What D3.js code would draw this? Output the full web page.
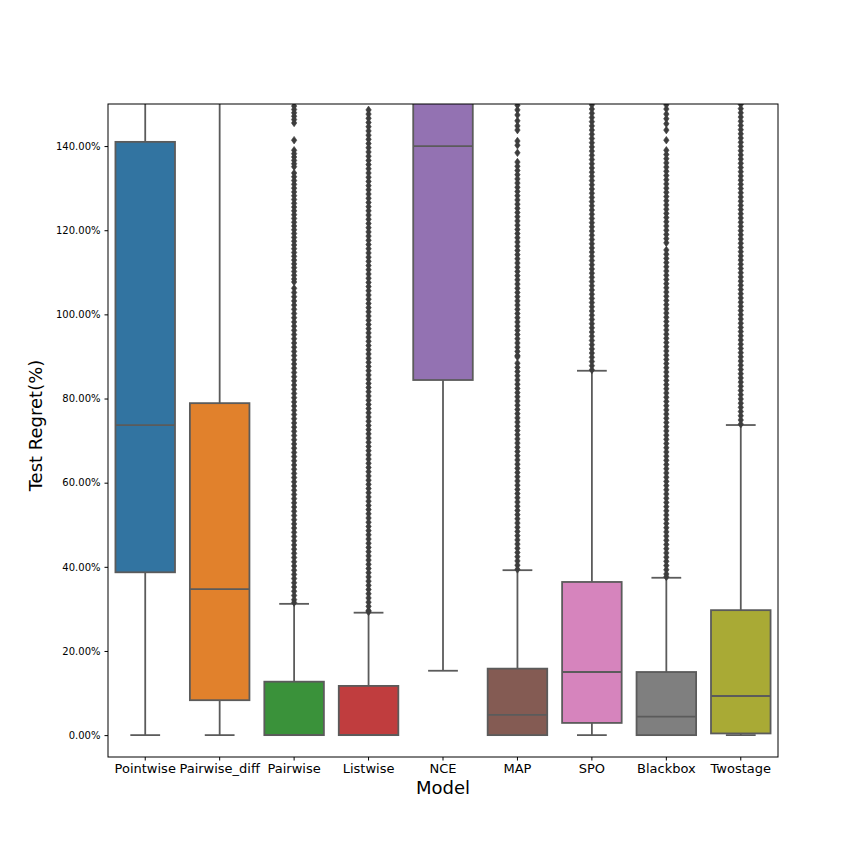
<!DOCTYPE html>
<html>
<head>
<meta charset="utf-8">
<script src="https://cdn.jsdelivr.net/npm/d3@7"></script>
<style>
  body { margin: 0; background: #fff; }
  text { font-family: "DejaVu Sans", sans-serif; }
</style>
</head>
<body>
<div id="chart"></div>
<script>
// Categories and box statistics (percent values)
const models = ["Pointwise", "Pairwise_diff", "Pairwise", "Listwise", "NCE", "MAP", "SPO", "Blackbox", "Twostage"];
const colors = ["#3274a1", "#e1812c", "#3a923a", "#c03d3e", "#9372b2", "#845b53", "#d684bd", "#7f7f7f", "#a9aa35"];
const whiskerLow = [0, 0, 0, 0, 15.3, 0, 0, 0, 0];
const q1 = [38.7, 8.3, 0, 0, 84.4, 0, 2.9, 0, 0.4];
const medians = [73.7, 34.7, 0, 0, 140.0, 4.8, 15.0, 4.4, 9.3];
const q3 = [141.0, 78.9, 12.7, 11.7, 190, 15.8, 36.4, 15.0, 29.7];
const whiskerHigh = [200, 200, 31.2, 29.1, 190, 39.2, 86.6, 37.4, 73.7];
const yTicks = [0, 20, 40, 60, 80, 100, 120, 140];

// Outliers (fliers) per model
const fliersPairwise = [149.5, 148.7, 147.9, 147.1, 146.3, 145.5, 141.4, 139.0, 138.2, 137.4, 136.6, 135.8, 135.1,
  133.6, 132.7, 131.8, 130.9, 130.0, 129.1, 128.2, 127.3, 126.4, 125.5, 124.6, 123.7, 122.8, 121.9, 121.0, 120.1,
  119.2, 118.3, 117.4, 116.5, 115.6, 114.7, 113.8, 112.9, 112.0, 111.1, 110.2, 109.3, 108.4, 107.7,
  106.2, 105.2, 104.2, 103.2, 102.2, 101.2, 100.2, 99.2, 98.2, 97.2, 96.2, 95.2, 94.2, 93.2, 92.2, 91.2, 90.2,
  89.2, 88.2, 87.2, 86.2, 85.2, 84.2, 83.2, 82.2, 81.2, 80.2, 79.2, 78.2, 77.2, 76.2, 75.2, 74.2, 73.2, 72.2,
  71.2, 70.2, 69.2, 68.2, 67.2, 66.2, 65.2, 64.2, 63.2, 62.2, 61.2, 60.2, 59.2, 58.2, 57.2, 56.2, 55.2, 54.2,
  53.2, 52.2, 51.2, 50.2, 49.2, 48.2, 47.2, 46.2, 45.2, 44.2, 43.2, 42.2, 41.2, 40.2, 39.2, 38.2, 37.2, 36.2,
  35.2, 34.2, 33.2, 32.2, 31.5];
const fliersListwise = [148.6, 147.6, 146.6, 145.6, 144.6, 143.6, 142.6, 141.6, 140.6, 139.6, 138.6, 137.6, 136.6,
  135.6, 134.6, 133.6, 132.6, 131.6, 130.6, 129.6, 128.6, 127.6, 126.6, 125.6, 124.6, 123.6, 122.6, 121.6, 120.6,
  119.6, 118.6, 117.6, 116.6, 115.6, 114.6, 113.6, 112.6, 111.6, 110.6, 109.6, 108.6, 107.6, 106.6, 105.6, 104.6,
  103.6, 102.6, 101.6, 100.6, 99.6, 98.6, 97.6, 96.6, 95.6, 94.6, 93.6, 92.6, 91.6, 90.6, 89.6, 88.6, 87.6, 86.6,
  85.6, 84.6, 83.6, 82.6, 81.6, 80.6, 79.6, 78.6, 77.6, 76.6, 75.6, 74.6, 73.6, 72.6, 71.6, 70.6, 69.6, 68.6,
  67.6, 66.6, 65.6, 64.6, 63.6, 62.6, 61.6, 60.6, 59.6, 58.6, 57.6, 56.6, 55.6, 54.6, 53.6, 52.6, 51.6, 50.6,
  49.6, 48.6, 47.6, 46.6, 45.6, 44.6, 43.6, 42.6, 41.6, 40.6, 39.6, 38.6, 37.6, 36.6, 35.6, 34.6, 33.6, 32.6,
  31.6, 30.6, 29.6, 29.3];
const fliersMAP = [149.7, 148.6, 147.4, 146.0, 144.8, 143.8, 141.2, 140.2, 138.4,
  136.2, 135.2, 134.2, 133.2, 132.2, 131.2, 130.2, 129.2, 128.2, 127.2, 126.2, 125.2, 124.2, 123.2, 122.2, 121.2,
  120.2, 119.2, 118.2, 117.2, 116.2, 115.2, 114.2, 113.2, 112.2, 111.2, 110.2, 109.2, 108.2, 107.2, 106.2, 105.2,
  104.2, 103.2, 102.2, 101.2, 100.2, 99.2, 98.2, 97.2, 96.2, 95.2, 94.2, 93.2, 92.2, 91.2, 90.2, 89.9,
  88.4, 87.4, 86.4, 85.4, 84.4, 83.4, 82.4, 81.4, 80.4, 79.4, 78.4, 77.4, 76.4, 75.4, 74.4, 73.4, 72.4, 71.4,
  70.4, 69.4, 68.4, 67.4, 66.4, 65.4, 64.4, 63.4, 62.4, 61.4, 60.4, 59.4, 58.4, 57.4, 56.4, 55.4, 54.4, 53.4,
  52.4, 51.4, 50.4, 49.4, 48.4, 47.4, 46.4, 45.4, 44.4, 43.4, 42.4, 41.4, 40.4, 39.4];
const fliersSPO = [149.8, 148.8, 147.8, 146.8, 145.8, 144.8, 143.8, 142.8, 141.8, 140.8, 139.8, 138.8, 137.8,
  136.8, 135.8, 134.8, 133.8, 132.8, 131.8, 130.8, 129.8, 128.8, 127.8, 126.8, 125.8, 124.8, 123.8, 122.8, 121.8,
  120.8, 119.8, 118.8, 117.8, 116.8, 115.8, 114.8, 113.8, 112.8, 111.8, 110.8, 109.8, 108.8, 107.8, 106.8, 105.8,
  104.8, 103.8, 102.8, 101.8, 100.8, 99.8, 98.8, 97.8, 96.8, 95.8, 94.8, 93.8, 92.8, 91.8, 90.8, 89.8, 88.8,
  87.8, 86.8];
const fliersBlackbox = [149.8, 148.8, 147.6, 146.5, 145.3, 143.8, 141.4,
  139.0, 138.0, 137.0, 136.0, 135.0, 134.0, 133.0, 132.0, 131.0, 130.0, 129.0, 128.0, 127.0, 126.0, 125.0, 124.0,
  123.0, 122.0, 121.0, 120.0, 119.0, 118.0, 117.0,
  115.3, 114.3, 113.3, 112.3, 111.3, 110.3, 109.3, 108.3, 107.3, 106.3, 105.3, 104.3, 103.3, 102.3, 101.3, 100.3,
  99.3, 98.3, 97.3, 96.3, 95.3, 94.3, 93.3, 92.3, 91.3, 90.3, 89.3, 88.3, 87.3, 86.3, 85.3, 84.3, 83.3, 82.3,
  81.3, 80.3, 79.3, 78.3, 77.3, 76.3, 75.3, 74.3, 73.3, 72.3, 71.3, 70.3, 69.3, 68.3, 67.3, 66.3, 65.3, 64.3,
  63.3, 62.3, 61.3, 60.3, 59.3, 58.3, 57.3, 56.3, 55.3, 54.3, 53.3, 52.3, 51.3, 50.3, 49.3, 48.3, 47.3, 46.3,
  45.3, 44.3, 43.3, 42.3, 41.3, 40.3, 39.3, 38.3, 37.6];
const fliersTwostage = [149.9, 148.9, 147.9, 146.9, 145.9, 144.9, 143.9, 142.9, 141.9, 140.9, 139.9, 138.9, 137.9,
  136.9, 135.9, 134.9, 133.9, 132.9, 131.9, 130.9, 129.9, 128.9, 127.9, 126.9, 125.9, 124.9, 123.9, 122.9, 121.9,
  120.9, 119.9, 118.9, 117.9, 116.9, 115.9, 114.9, 113.9, 112.9, 111.9, 110.9, 109.9, 108.9, 107.9, 106.9, 105.9,
  104.9, 103.9, 102.9, 101.9, 100.9, 99.9, 98.9, 97.9, 96.9, 95.9, 94.9, 93.9, 92.9, 91.9, 90.9, 89.9, 88.9,
  87.9, 86.9, 85.9, 84.9, 83.9, 82.9, 81.9, 80.9, 79.9, 78.9, 77.9, 76.9, 75.9, 74.9, 73.9];
const fliers = [[], [], fliersPairwise, fliersListwise, [], fliersMAP, fliersSPO, fliersBlackbox, fliersTwostage];

const W = 864, H = 864;
const margin = { top: 104, right: 86, bottom: 107, left: 108 };
const width = W - margin.left - margin.right;
const height = H - margin.top - margin.bottom;
const lineColor = "#5b5b5b";
const flierColor = "#3d3d3d";

const svg = d3.select("#chart").append("svg")
  .attr("width", W)
  .attr("height", H);

const g = svg.append("g")
  .attr("transform", `translate(${margin.left},${margin.top})`);

const x = d3.scaleBand().domain(models).range([0, width]);
const y = d3.scaleLinear().domain([-5.2, 150]).range([height, 0]);

svg.append("defs").append("clipPath").attr("id", "clip")
  .append("rect").attr("width", width).attr("height", height);

const plot = g.append("g").attr("clip-path", "url(#clip)");

const boxW = x.bandwidth() * 0.8;
const capW = boxW / 2;

models.forEach(function (m, i) {
  const cx = x(m) + x.bandwidth() / 2;
  const grp = plot.append("g");

  // whiskers
  grp.append("line")
    .attr("x1", cx).attr("x2", cx)
    .attr("y1", y(whiskerHigh[i])).attr("y2", y(q3[i]))
    .attr("stroke", lineColor).attr("stroke-width", 1.8);
  grp.append("line")
    .attr("x1", cx).attr("x2", cx)
    .attr("y1", y(q1[i])).attr("y2", y(whiskerLow[i]))
    .attr("stroke", lineColor).attr("stroke-width", 1.8);
  // caps
  [whiskerLow[i], whiskerHigh[i]].forEach(function (v) {
    grp.append("line")
      .attr("x1", cx - capW / 2).attr("x2", cx + capW / 2)
      .attr("y1", y(v)).attr("y2", y(v))
      .attr("stroke", lineColor).attr("stroke-width", 1.8);
  });

  // box
  grp.append("rect")
    .attr("x", cx - boxW / 2)
    .attr("y", y(q3[i]))
    .attr("width", boxW)
    .attr("height", y(q1[i]) - y(q3[i]))
    .attr("fill", colors[i])
    .attr("stroke", lineColor).attr("stroke-width", 1.8);

  // median
  grp.append("line")
    .attr("x1", cx - boxW / 2).attr("x2", cx + boxW / 2)
    .attr("y1", y(medians[i])).attr("y2", y(medians[i]))
    .attr("stroke", lineColor).attr("stroke-width", 1.8);

  // fliers as thin diamonds
  grp.selectAll("path.flier")
    .data(fliers[i])
    .join("path")
      .attr("class", "flier")
      .attr("d", d => {
        const py = y(d);
        return `M${cx},${py - 3.8}L${cx + 2.7},${py}L${cx},${py + 3.8}L${cx - 2.7},${py}Z`;
      })
      .attr("fill", flierColor)
      .attr("stroke", flierColor)
      .attr("stroke-width", 0.6);
});

// axes
const yAxis = g.append("g")
  .call(d3.axisLeft(y).tickValues(yTicks).tickSize(3.5).tickFormat(d => d.toFixed(2) + "%"));
yAxis.select(".domain").remove();
yAxis.selectAll("text").attr("font-size", 10).attr("fill", "#000").attr("dx", "-0.1em");

const xAxis = g.append("g")
  .attr("transform", `translate(0,${height})`)
  .call(d3.axisBottom(x).tickSize(3.5).tickSizeOuter(0));
xAxis.select(".domain").remove();
xAxis.selectAll("text").attr("font-size", 13).attr("fill", "#000").attr("dy", "0.75em");

// frame
g.append("rect")
  .attr("width", width).attr("height", height)
  .attr("fill", "none").attr("stroke", "#000").attr("stroke-width", 1);

// axis titles
g.append("text")
  .attr("x", width / 2)
  .attr("y", height + 37)
  .attr("text-anchor", "middle")
  .attr("font-size", 18)
  .text("Model");

g.append("text")
  .attr("transform", `translate(${-66},${height / 2 - 5}) rotate(-90)`)
  .attr("text-anchor", "middle")
  .attr("font-size", 18)
  .text("Test Regret(%)");
</script>
</body>
</html>
